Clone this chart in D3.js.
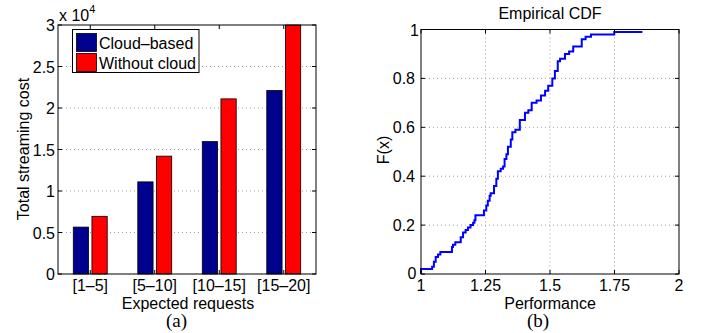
<!DOCTYPE html>
<html>
<head>
<meta charset="utf-8">
<script src="https://cdn.jsdelivr.net/npm/d3@7/dist/d3.min.js"></script>
<style>
  html, body { margin: 0; padding: 0; background: #fff; }
  svg { display: block; }
  text { font-family: "Liberation Sans", Arial, Helvetica, sans-serif; fill: #000; }
  .cap { font-family: "Liberation Serif", "Times New Roman", serif; }
</style>
</head>
<body>
<svg id="fig" width="711" height="333"></svg>
<script>
// (a) grouped bars: total streaming cost per expected-request range
const categories = ["[1–5]", "[5–10]", "[10–15]", "[15–20]"];
const seriesNames = ["Cloud–based", "Without cloud"];
const cloudBased = [5650, 11100, 15950, 22100];
const withoutCloud = [6950, 14200, 21100, 30000];
const costTicks = [0, 0.5, 1, 1.5, 2, 2.5, 3];   // in units of 10^4

// (b) empirical CDF of performance (step after each breakpoint)
const cdfX = [1.000, 1.000, 1.043, 1.050, 1.057, 1.066, 1.075, 1.120, 1.124, 1.133, 1.154, 1.163,
              1.173, 1.182, 1.192, 1.202, 1.207, 1.211, 1.244, 1.253, 1.259, 1.266, 1.270, 1.283,
              1.292, 1.298, 1.309, 1.318, 1.324, 1.331, 1.337, 1.348, 1.354, 1.366, 1.383, 1.403,
              1.416, 1.429, 1.448, 1.465, 1.481, 1.493, 1.509, 1.519, 1.530, 1.539, 1.558, 1.574,
              1.590, 1.623, 1.638, 1.659, 1.749, 1.858];
const cdfF = [0.00, 0.02, 0.03, 0.05, 0.07, 0.08, 0.09, 0.11, 0.12, 0.13, 0.15, 0.17,
              0.18, 0.19, 0.20, 0.21, 0.22, 0.24, 0.26, 0.28, 0.30, 0.32, 0.33, 0.36,
              0.39, 0.42, 0.43, 0.44, 0.47, 0.49, 0.52, 0.55, 0.58, 0.59, 0.63, 0.66,
              0.67, 0.70, 0.71, 0.73, 0.75, 0.77, 0.80, 0.83, 0.87, 0.88, 0.90, 0.91,
              0.93, 0.96, 0.97, 0.98, 0.99, 0.99];
const perfTicks = [1, 1.25, 1.5, 1.75, 2];
const probTicks = [0, 0.2, 0.4, 0.6, 0.8, 1];

const svg = d3.select("#fig");
const FS = 16, TICK = 4;
const gridStyle = sel => sel.attr("stroke", "#a0a0a0").attr("stroke-width", 1)
  .attr("stroke-dasharray", "1,3").attr("fill", "none");

// ---------- panel (a) ----------
const A = {l: 58, r: 316, t: 25, b: 274};
const xCat = d3.scaleBand().domain(categories).range([A.l, A.r]).padding(0);
const xSer = d3.scaleBand().domain(seriesNames).range([0, xCat.bandwidth()])
  .paddingInner(0.18).paddingOuter(0.82);
const yCost = d3.scaleLinear().domain([0, 30000]).range([A.b, A.t]);
const colors = ["#00008F", "#FF0000"];

const ga = svg.append("g");
// horizontal grid
ga.selectAll("line.grid").data(costTicks.slice(1, -1)).join("line")
  .attr("x1", A.l).attr("x2", A.r)
  .attr("y1", d => yCost(d * 1e4)).attr("y2", d => yCost(d * 1e4))
  .call(gridStyle);

const rows = categories.map((c, i) => ({c, vals: [cloudBased[i], withoutCloud[i]]}));
ga.selectAll("g.grp").data(rows).join("g")
  .attr("transform", d => `translate(${xCat(d.c)},0)`)
  .selectAll("rect").data(d => d.vals.map((v, j) => ({s: seriesNames[j], v, j}))).join("rect")
  .attr("x", d => xSer(d.s)).attr("width", xSer.bandwidth())
  .attr("y", d => yCost(d.v)).attr("height", d => yCost(0) - yCost(d.v))
  .attr("fill", d => colors[d.j]).attr("stroke", "#000").attr("stroke-width", 0.8);

// axes box with inward ticks
ga.append("rect").attr("x", A.l).attr("y", A.t).attr("width", A.r - A.l).attr("height", A.b - A.t)
  .attr("fill", "none").attr("stroke", "#000").attr("stroke-width", 1);
costTicks.forEach(t => {
  const y = yCost(t * 1e4);
  ga.append("line").attr("x1", A.l).attr("x2", A.l + TICK).attr("y1", y).attr("y2", y).attr("stroke", "#000");
  ga.append("line").attr("x1", A.r).attr("x2", A.r - TICK).attr("y1", y).attr("y2", y).attr("stroke", "#000");
});
categories.forEach(c => {
  const x = xCat(c) + xCat.bandwidth() / 2;
  ga.append("line").attr("x1", x).attr("x2", x).attr("y1", A.b).attr("y2", A.b - TICK).attr("stroke", "#000");
  ga.append("line").attr("x1", x).attr("x2", x).attr("y1", A.t).attr("y2", A.t + TICK).attr("stroke", "#000");
});
// tick labels
ga.selectAll("text.yt").data(costTicks).join("text")
  .attr("x", A.l - 3).attr("y", d => yCost(d * 1e4) + 6)
  .attr("text-anchor", "end").attr("font-size", FS).text(d => d);
ga.selectAll("text.xt").data(categories).join("text")
  .attr("x", d => xCat(d) + xCat.bandwidth() / 2).attr("y", 290.5)
  .attr("text-anchor", "middle").attr("font-size", FS).text(d => d);
// exponent
const ex = ga.append("text").attr("x", 59).attr("y", 21).attr("font-size", FS);
ex.append("tspan").text("x 10");
ex.append("tspan").attr("font-size", 11).attr("dy", -8).text("4");
// axis labels
ga.append("text").attr("x", 188).attr("y", 308.5).attr("text-anchor", "middle")
  .attr("font-size", FS).text("Expected requests");
ga.append("text").attr("transform", "translate(29,149) rotate(-90)").attr("text-anchor", "middle")
  .attr("font-size", FS).text("Total streaming cost");
ga.append("text").attr("class", "cap").attr("x", 176.5).attr("y", 326.5).attr("text-anchor", "middle")
  .attr("font-size", 19).text("(a)");
// legend
const lg = ga.append("g");
lg.append("rect").attr("x", 72.5).attr("y", 29.5).attr("width", 126.5).attr("height", 43)
  .attr("fill", "#fff").attr("stroke", "#000");
seriesNames.forEach((s, i) => {
  lg.append("rect").attr("x", 76.5).attr("y", 33.5 + i * 20).attr("width", 20).attr("height", 18)
    .attr("fill", colors[i]).attr("stroke", "#000").attr("stroke-width", 0.8);
  lg.append("text").attr("x", 99).attr("y", 49 + i * 19.5).attr("font-size", FS).text(s);
});

// ---------- panel (b) ----------
const B = {l: 421, r: 679, t: 29.5, b: 274};
const xPerf = d3.scaleLinear().domain([1, 2]).range([B.l, B.r]);
const yProb = d3.scaleLinear().domain([0, 1]).range([B.b, B.t]);
const gb = svg.append("g");

gb.selectAll("line.gy").data(probTicks.slice(1)).join("line")
  .attr("x1", B.l).attr("x2", B.r).attr("y1", d => yProb(d)).attr("y2", d => yProb(d)).call(gridStyle);
gb.selectAll("line.gx").data(perfTicks.slice(1, -1)).join("line")
  .attr("y1", B.t).attr("y2", B.b).attr("x1", d => xPerf(d)).attr("x2", d => xPerf(d)).call(gridStyle);

const pts = cdfX.map((x, i) => [x, cdfF[i]]);
gb.append("path").datum(pts)
  .attr("d", d3.line().x(d => xPerf(d[0])).y(d => yProb(d[1])).curve(d3.curveStepAfter))
  .attr("fill", "none").attr("stroke", "#0000FF").attr("stroke-width", 2);

gb.append("rect").attr("x", B.l).attr("y", B.t).attr("width", B.r - B.l).attr("height", B.b - B.t)
  .attr("fill", "none").attr("stroke", "#000");
probTicks.forEach(t => {
  const y = yProb(t);
  gb.append("line").attr("x1", B.l).attr("x2", B.l + TICK).attr("y1", y).attr("y2", y).attr("stroke", "#000");
  gb.append("line").attr("x1", B.r).attr("x2", B.r - TICK).attr("y1", y).attr("y2", y).attr("stroke", "#000");
});
perfTicks.forEach(t => {
  const x = xPerf(t);
  gb.append("line").attr("x1", x).attr("x2", x).attr("y1", B.b).attr("y2", B.b - TICK).attr("stroke", "#000");
  gb.append("line").attr("x1", x).attr("x2", x).attr("y1", B.t).attr("y2", B.t + TICK).attr("stroke", "#000");
});
gb.selectAll("text.yt").data(probTicks).join("text")
  .attr("x", d => B.l - (d === 0 ? 4.5 : d === 1 ? 2 : 6))
  .attr("y", d => yProb(d) + (d === 0 ? 4.5 : 6))
  .attr("text-anchor", "end").attr("font-size", FS).text(d => d);
gb.selectAll("text.xt").data(perfTicks).join("text")
  .attr("x", d => xPerf(d)).attr("y", 290.5)
  .attr("text-anchor", "middle").attr("font-size", FS).text(d => d);
gb.append("text").attr("x", 550).attr("y", 308.5).attr("text-anchor", "middle")
  .attr("font-size", FS).text("Performance");
gb.append("text").attr("transform", "translate(389,150) rotate(-90)").attr("text-anchor", "middle")
  .attr("font-size", FS).text("F(x)");
gb.append("text").attr("x", 550).attr("y", 19).attr("text-anchor", "middle")
  .attr("font-size", FS).text("Empirical CDF");
gb.append("text").attr("class", "cap").attr("x", 538).attr("y", 326.5).attr("text-anchor", "middle")
  .attr("font-size", 19).text("(b)");
</script>
</body>
</html>
